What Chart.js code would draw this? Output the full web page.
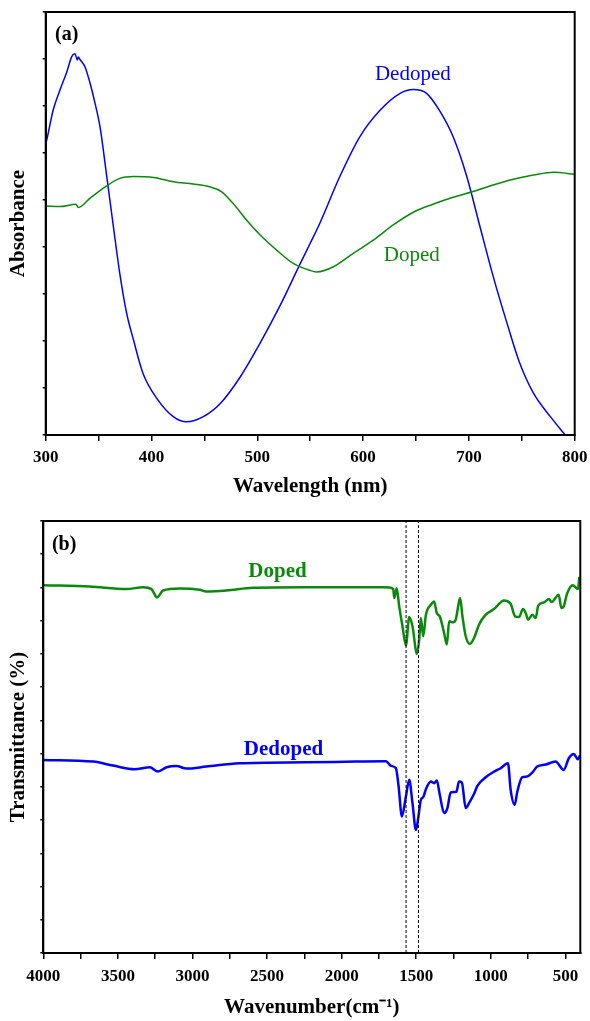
<!DOCTYPE html>
<html>
<head>
<meta charset="utf-8">
<script src="https://cdn.jsdelivr.net/npm/chart.js@4.4.1/dist/chart.umd.min.js"></script>
<style>
  body { margin: 0; background: #fff; }
  canvas { position: absolute; left: 0; }
  #uvChart { top: 0; }
  #irChart { top: 505px; }
</style>
</head>
<body>
<canvas id="uvChart" width="590" height="505"></canvas>
<canvas id="irChart" width="590" height="516"></canvas>
<script>
// (a) UV-vis absorbance, arbitrary units
const uvDedopedNm = [300, 301, 307, 313.5, 320, 324.6, 327.7, 329.9, 330.8, 332.4, 337, 342, 346.6, 351.3, 358, 364, 370, 376.5, 383, 392, 405, 420.6, 433, 449, 465, 484, 502.5, 521, 540, 550, 559, 578, 597, 616, 635, 647.5, 660, 672, 685, 698, 710.5, 723, 736, 748, 761, 777, 791];
const uvDedopedAbs = [6.2, 6.28, 6.91, 7.34, 7.73, 8.05, 8.11, 7.98, 8.04, 7.99, 7.84, 7.48, 7.06, 6.56, 5.45, 4.43, 3.44, 2.59, 2.02, 1.31, 0.78, 0.39, 0.28, 0.39, 0.67, 1.24, 1.95, 2.73, 3.62, 4.08, 4.5, 5.5, 6.35, 6.91, 7.27, 7.35, 7.27, 6.91, 6.35, 5.5, 4.43, 3.37, 2.38, 1.53, 0.89, 0.39, 0];
const uvDopedNm = [300, 313.5, 328.6, 330.8, 342, 357.6, 370, 383, 402, 420.6, 439.5, 455, 466, 477, 490, 502.5, 518, 534, 550, 556, 572, 591, 610, 628.5, 647.5, 666, 685, 704, 723, 742, 761, 780, 800];
const uvDopedAbs = [4.87, 4.86, 4.91, 4.84, 5.04, 5.3, 5.46, 5.5, 5.48, 5.39, 5.34, 5.28, 5.18, 4.93, 4.57, 4.26, 3.94, 3.65, 3.5, 3.47, 3.58, 3.87, 4.15, 4.47, 4.74, 4.91, 5.06, 5.18, 5.32, 5.44, 5.53, 5.59, 5.55];

// (b) FTIR transmittance, arbitrary units
const irDopedWn = [4000, 3688, 3442, 3331, 3275, 3237, 3197, 3085, 2952, 2907, 2773, 2595, 2238, 1792, 1681, 1654, 1647, 1631, 1614, 1592, 1569, 1547, 1525, 1495, 1480, 1469, 1453, 1435, 1402, 1380, 1362, 1342, 1313, 1295, 1279, 1253, 1235, 1219, 1206, 1190, 1168, 1141, 1112, 1079, 1034, 978, 911, 867, 837, 811, 784, 766, 749, 722, 699, 682, 644, 610, 592, 545, 527, 511, 489, 451, 416, 406];
const irDopedT = [11.07, 11.03, 10.95, 11.01, 10.95, 10.7, 10.91, 10.97, 10.93, 10.88, 10.91, 10.99, 11.01, 11.01, 11.0, 10.95, 10.68, 10.98, 10.43, 9.83, 9.25, 10.11, 9.83, 9.0, 9.43, 10.08, 9.53, 10.18, 10.48, 10.58, 10.23, 10.13, 9.63, 9.28, 9.98, 9.95, 10.03, 10.43, 10.68, 10.13, 9.53, 9.3, 9.48, 9.88, 10.18, 10.35, 10.61, 10.51, 10.13, 10.11, 10.35, 10.23, 10.03, 10.18, 10.08, 10.45, 10.55, 10.65, 10.56, 10.78, 10.38, 10.43, 10.81, 11.07, 10.95, 11.32];
const irDedopedWn = [4000, 3665, 3532, 3387, 3286, 3231, 3174, 3108, 3041, 2907, 2684, 2238, 1903, 1703, 1669, 1636, 1618, 1596, 1569, 1547, 1525, 1502, 1485, 1469, 1453, 1435, 1402, 1380, 1362, 1342, 1313, 1291, 1269, 1231, 1213, 1194, 1168, 1146, 1112, 1090, 1034, 978, 934, 885, 867, 840, 822, 789, 756, 722, 689, 633, 566, 511, 477, 444, 416, 402];
const irDedopedT = [5.81, 5.76, 5.64, 5.53, 5.59, 5.46, 5.59, 5.63, 5.55, 5.61, 5.71, 5.74, 5.76, 5.77, 5.63, 5.56, 5.01, 4.11, 4.71, 5.21, 4.51, 3.7, 4.11, 4.61, 4.69, 4.93, 5.16, 5.11, 5.19, 4.76, 4.21, 4.36, 4.83, 4.85, 5.16, 5.13, 4.36, 4.51, 4.79, 5.03, 5.29, 5.46, 5.56, 5.71, 4.91, 4.46, 4.86, 5.29, 5.31, 5.43, 5.61, 5.67, 5.76, 5.51, 5.86, 5.99, 5.83, 5.95];
const markerLinesWn = [1568, 1485];

const serif = "'Liberation Serif', 'Times New Roman', serif";
const tickFont = { family: serif, size: 17, weight: 'bold' };
const titleFont = { family: serif, size: 21, weight: 'bold' };

function points(xs, ys) {
  return xs.map((x, i) => ({ x, y: ys[i] }));
}

// frame around the plot area + text labels placed in data units
const notesPlugin = {
  id: 'notes',
  afterDraw(chart, args, opts) {
    const { ctx, chartArea: a, scales: { x, y } } = chart;
    ctx.save();
    ctx.strokeStyle = '#000';
    ctx.lineWidth = 2;
    ctx.strokeRect(a.left, a.top, a.right - a.left, a.bottom - a.top);
    (opts.items || []).forEach((n) => {
      ctx.font = n.font;
      ctx.fillStyle = n.color;
      ctx.textAlign = n.align || 'center';
      ctx.textBaseline = 'alphabetic';
      ctx.fillText(n.text, x.getPixelForValue(n.x), y.getPixelForValue(n.y));
    });
    ctx.restore();
  }
};

function yAxis(max, title, width) {
  return {
    min: 0, max,
    ticks: { display: false, stepSize: 1 },
    grid: { drawOnChartArea: false, tickLength: 3, color: '#000', lineWidth: 1.5 },
    border: { color: '#000', width: 2 },
    title: { display: true, text: title, color: '#000', font: titleFont, padding: { top: 6.4, bottom: 0 } },
    afterFit: (s) => { s.width = width; }
  };
}

// fixed height, and no extra side padding from the end labels
function fitX(height) {
  return (s) => {
    s.height = height;
    s.paddingLeft = 0;
    s.paddingRight = 0;
  };
}

new Chart(document.getElementById('uvChart'), {
  type: 'line',
  data: {
    datasets: [
      { data: points(uvDopedNm, uvDopedAbs), borderColor: '#0a8a0a', borderWidth: 1.5, pointRadius: 0, cubicInterpolationMode: 'monotone' },
      { data: points(uvDedopedNm, uvDedopedAbs), borderColor: '#0000ff', borderWidth: 1.5, pointRadius: 0, cubicInterpolationMode: 'monotone' },
    ]
  },
  options: {
    responsive: false,
    animation: false,
    layout: { padding: { top: 12, right: 15.3, left: 0, bottom: 0 } },
    plugins: {
      legend: { display: false },
      tooltip: { enabled: false },
      notes: { items: [
        { text: '(a)', x: 308.9, y: 8.4, color: '#000', font: `bold 20px ${serif}`, align: 'left' },
        { text: 'Dedoped', x: 647, y: 7.55, color: '#0000ff', font: `21px ${serif}` },
        { text: 'Doped', x: 646, y: 3.71, color: '#0a8a0a', font: `21px ${serif}` },
      ] }
    },
    scales: {
      x: {
        type: 'linear', min: 300, max: 800,
        ticks: { stepSize: 50, autoSkip: false, maxRotation: 0, color: '#000', font: tickFont, padding: 6, callback: (v) => (v % 100 === 0 ? v : '') },
        grid: { drawOnChartArea: false, tickLength: 6, color: '#000', lineWidth: 1.5 },
        border: { color: '#000', width: 2 },
        title: { display: true, text: 'Wavelength (nm)', color: '#000', font: titleFont, padding: { top: 0, bottom: 5.4 } },
        afterFit: fitX(70)
      },
      y: yAxis(9, 'Absorbance', 45.7)
    }
  },
  plugins: [notesPlugin]
});

const markerSets = markerLinesWn.map((wn) => ({
  data: [{ x: wn, y: 0 }, { x: wn, y: 13 }],
  borderColor: '#000', borderWidth: 1, borderDash: [3, 2], pointRadius: 0
}));

new Chart(document.getElementById('irChart'), {
  type: 'line',
  data: {
    datasets: [
      ...markerSets,
      { data: points(irDopedWn, irDopedT), borderColor: '#0a8a0a', borderWidth: 2.5, pointRadius: 0, cubicInterpolationMode: 'monotone' },
      { data: points(irDedopedWn, irDedopedT), borderColor: '#0000ff', borderWidth: 2.5, pointRadius: 0, cubicInterpolationMode: 'monotone' },
    ]
  },
  options: {
    responsive: false,
    animation: false,
    layout: { padding: { top: 16, right: 9.7, left: 0, bottom: 0 } },
    plugins: {
      legend: { display: false },
      tooltip: { enabled: false },
      notes: { items: [
        { text: '(b)', x: 3942, y: 12.14, color: '#000', font: `bold 20px ${serif}`, align: 'left' },
        { text: 'Doped', x: 2430, y: 11.3, color: '#0a8a0a', font: `bold 21px ${serif}` },
        { text: 'Dedoped', x: 2390, y: 5.96, color: '#0000ff', font: `bold 21px ${serif}` },
      ] }
    },
    scales: {
      x: {
        type: 'linear', min: 400, max: 4000, reverse: true,
        afterBuildTicks: (s) => { s.ticks = s.ticks.filter((t) => t.value % 250 === 0); },
        ticks: { stepSize: 250, includeBounds: false, autoSkip: false, maxRotation: 0, color: '#000', font: tickFont, padding: 7, callback: (v) => (v % 500 === 0 ? v : '') },
        grid: { drawOnChartArea: false, tickLength: 6, color: '#000', lineWidth: 1.5 },
        border: { color: '#000', width: 2 },
        title: { display: true, text: 'Wavenumber(cm⁻¹)', color: '#000', font: titleFont, padding: { top: 0, bottom: 1 } },
        afterFit: fitX(68)
      },
      y: yAxis(13, 'Transmittance (%)', 43.3)
    }
  },
  plugins: [notesPlugin]
});
</script>
</body>
</html>
